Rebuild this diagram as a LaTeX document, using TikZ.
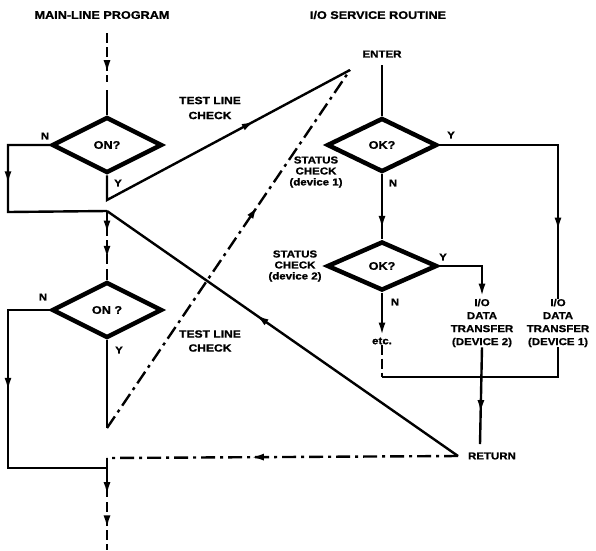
\documentclass[tikz,border=0pt]{standalone}
\usepackage{fontspec}
\newfontfamily\lab[FakeStretch=1.15,FakeBold=1.2]{Liberation Sans}
\usetikzlibrary{shapes.geometric,arrows.meta,decorations.markings}
\tikzset{
  conn/.style={line width=2.4pt, line join=miter},
  dd/.style={conn, dash pattern=on 14pt off 5pt on 3pt off 5pt},
  dsh/.style={conn, dash pattern=on 10pt off 4pt},
  marr/.style={postaction={decorate}, decoration={markings,
      mark=at position #1 with {\arrow{Latex[length=13pt,width=7pt]}}}},
  endarr/.style={-{Latex[length=13pt,width=7pt]}},
  dia/.style={diamond, draw, line width=4.5pt, inner sep=0pt,
      minimum width=110pt, font=\lab\bfseries\fontsize{11}{12}\selectfont},
  lbl/.style={font=\lab\bfseries\fontsize{10}{11}\selectfont, align=center, inner sep=0pt},
  big/.style={font=\lab\bfseries\fontsize{10.5}{15}\selectfont, align=center, inner sep=0pt},
  yn/.style={font=\lab\bfseries\fontsize{10}{11}\selectfont, inner sep=0pt},
}
\begin{document}
\begin{tikzpicture}[x=1pt,y=-1pt]
\useasboundingbox (0,0) rectangle (596,550);
% titles
\node[lbl, font=\lab\bfseries\fontsize{11}{12}\selectfont] (t1) at (102,15) {MAIN-LINE PROGRAM};
\node[lbl, font=\lab\bfseries\fontsize{11}{12}\selectfont] (t2) at (378,15) {I/O SERVICE ROUTINE};
% diamonds
\node[dia, minimum height=56pt] (d1) at (107,145) {ON?};
\node[dia, minimum height=56pt] (d2) at (107,310) {ON ?};
\node[dia, minimum height=54pt] (d3) at (382,145) {OK?};
\node[dia, minimum height=49pt] (d4) at (382,266) {OK?};
% text nodes
\node[lbl] (enter) at (382,54) {ENTER};
\node[lbl] (ret) at (492,456) {RETURN};
\node[lbl, font=\lab\bfseries\fontsize{10}{13}\selectfont] (io1) at (558,323) {I/O\\DATA\\TRANSFER\\(DEVICE 1)};
\node[lbl, font=\lab\bfseries\fontsize{10}{13}\selectfont] (io2) at (482,323) {I/O\\DATA\\TRANSFER\\(DEVICE 2)};
\node[lbl] (etc) at (382,341) {etc.};
\node[big] (tl1) at (210,108) {TEST LINE\\CHECK};
\node[big, font=\lab\bfseries\fontsize{10.5}{14}\selectfont] (tl2) at (210,341) {TEST LINE\\CHECK};
\node[lbl, font=\lab\bfseries\fontsize{10}{11}\selectfont] (sc1) at (316,172) {STATUS\\CHECK\\(device 1)};
\node[lbl, font=\lab\bfseries\fontsize{10}{11}\selectfont] (sc2) at (295,266) {STATUS\\CHECK\\(device 2)};
% Y/N labels
\node[yn] (n1) at (45,136) {N};
\node[yn] (y1l) at (118,183) {Y};
\node[yn] (n2) at (43,297) {N};
\node[yn] (y2l) at (119,350) {Y};
\node[yn] (y3l) at (451,135) {Y};
\node[yn] (n3) at (393,183) {N};
\node[yn] (y4l) at (443,257) {Y};
\node[yn] (n4) at (395,302) {N};
% coordinates
\coordinate (a0) at (107,33);
\coordinate (a1) at (107,82);
\coordinate (a2) at (107,90);
\coordinate (l1a) at (8,145);
\coordinate (l1b) at (8,212);
\coordinate (j1) at (107,211);
\coordinate (y1) at (107,200);
\coordinate (ep) at (350,70);
\coordinate (a3) at (107,236);
\coordinate (a4) at (107,240);
\coordinate (a5) at (107,265);
\coordinate (a6) at (107,269);
\coordinate (l2a) at (8,310);
\coordinate (l2b) at (8,468);
\coordinate (j2) at (107,468);
\coordinate (y2) at (107,428);
\coordinate (rp) at (458,456);
\coordinate (j3) at (107,458);
\coordinate (a7) at (107,497);
\coordinate (a8) at (107,502);
\coordinate (a9) at (107,550);
\coordinate (r1) at (558,145);
\coordinate (r2) at (482,266);
\coordinate (c1) at (558,377);
\coordinate (c2) at (382,377);
\coordinate (rt) at (480,444);
\coordinate (et) at (382,65);
% main line
\draw[dsh, marr=0.82] (a0) -- (a1);
\draw[conn] (a2) -- (d1.north);
\draw[conn, marr=0.39] (d1.west) -- (l1a) -- (l1b) -- (j1);
\draw[conn, marr=0.64] (d1.south) -- (y1) -- (ep);
\draw[conn, marr=0.576] (rp) -- (j1);
\draw[conn, marr=0.9] (j1) -- (a3);
\draw[dsh, marr=0.75] (a4) -- (a5);
\draw[conn] (a6) -- (d2.north);
\draw[conn, marr=0.41] (d2.west) -- (l2a) -- (l2b) -- (j2);
\draw[conn] (d2.south) -- (y2);
\draw[dd, marr=0.62] (y2) -- (ep);
\draw[dd, marr=0.59] (rp) -- (j3);
\draw[conn, marr=0.95] (j3) -- (a7);
\draw[dsh, marr=0.55] (a8) -- (a9);
% service routine
\draw[conn] (et) -- (d3.north);
\draw[conn, marr=0.75] (d3.east) -- (r1) -- (io1.north);
\draw[conn, marr=0.84] (d3.south) -- (d4.north);
\draw[conn, endarr, shorten >=2pt] (d4.east) -- (r2) -- (io2.north);
\draw[conn, endarr, shorten >=2pt] (d4.south) -- (etc.north);
\draw[conn] (io1.south) -- (c1) -- (c2);
\draw[dsh] (etc.south) -- (c2);
\draw[conn, marr=0.68] (io2.south) -- (rt);
\end{tikzpicture}
\end{document}
